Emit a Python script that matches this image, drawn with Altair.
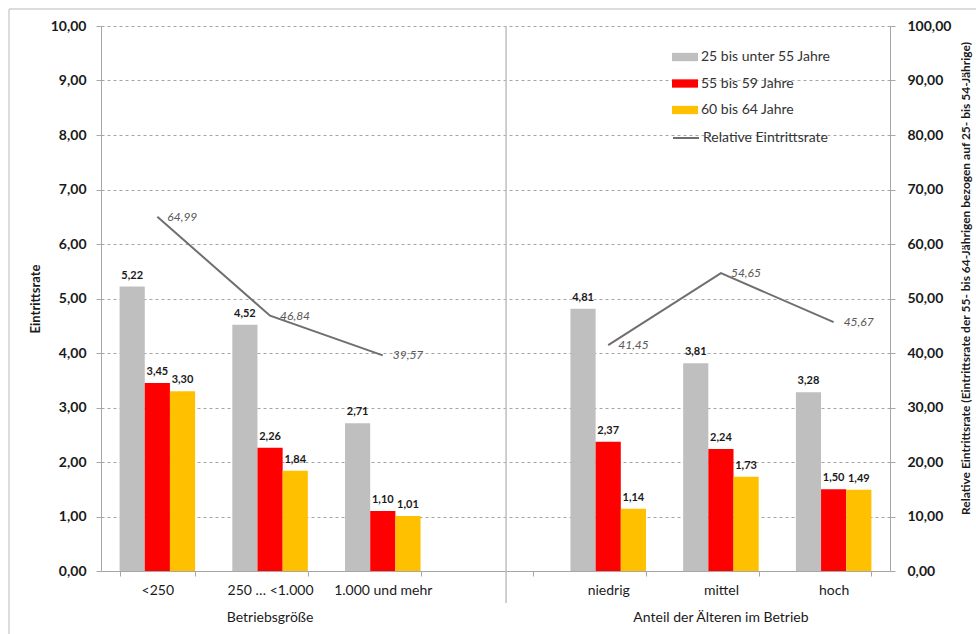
import altair as alt
import pandas as pd

# Categories on the x axis; the blank entry leaves a gap between the two sections
categories = ["<250", "250 … <1.000", "1.000 und mehr", " ", "niedrig", "mittel", "hoch"]
gap_category = " "

series = ["25 bis unter 55 Jahre", "55 bis 59 Jahre", "60 bis 64 Jahre"]
series_colors = ["#bfbfbf", "#ff0000", "#ffc000"]

bar_categories = ["<250", "250 … <1.000", "1.000 und mehr", "niedrig", "mittel", "hoch"]
rate_25_54 = [5.22, 4.52, 2.71, 4.81, 3.81, 3.28]
rate_55_59 = [3.45, 2.26, 1.10, 2.37, 2.24, 1.50]
rate_60_64 = [3.30, 1.84, 1.01, 1.14, 1.73, 1.49]

line_name = "Relative Eintrittsrate"
relative_rate = [64.99, 46.84, 39.57, 41.45, 54.65, 45.67]
section = ["Betriebsgröße"] * 3 + ["Anteil der Älteren im Betrieb"] * 3

section_titles = ["Betriebsgröße", "Anteil der Älteren im Betrieb"]
section_centres = ["250 … <1.000", "mittel"]

left_ticks = [0, 1, 2, 3, 4, 5, 6, 7, 8, 9, 10]
right_ticks = [0, 10, 20, 30, 40, 50, 60, 70, 80, 90, 100]

W, H = 789, 545
FONT = "Lato"
GREY = "#a6a6a6"
DE_NUM = "replace(format(datum.value, '.2f'), '.', ',')"

bars_df = pd.DataFrame(
    [
        {"cat": c, "series": s, "rate": v}
        for s, vals in zip(series, [rate_25_54, rate_55_59, rate_60_64])
        for c, v in zip(bar_categories, vals)
    ]
)
line_df = pd.DataFrame(
    {"cat": bar_categories, "rel": relative_rate, "section": section, "kind": line_name}
)
titles_df = pd.DataFrame({"cat": section_centres, "title": section_titles})
gap_df = pd.DataFrame({"cat": [gap_category]})
blank = alt.Data(values=[{}])

x_scale = alt.Scale(domain=categories, paddingInner=0.33, paddingOuter=0.165)
x_axis = alt.Axis(
    title=None,
    labelAngle=0,
    tickBand="extent",
    grid=False,
    domainColor=GREY,
    tickColor=GREY,
    tickSize=5,
    labelFontSize=14,
    labelColor="#1a1a1a",
    labelPadding=7,
)


def x_enc(**kw):
    return alt.X("cat:N", sort=categories, scale=x_scale, axis=x_axis, **kw)


offset = alt.XOffset(
    "series:N", sort=series, scale=alt.Scale(domain=series, paddingInner=0, paddingOuter=0)
)

y_left = alt.Y(
    "rate:Q",
    scale=alt.Scale(domain=[0, 10], nice=False),
    axis=alt.Axis(
        values=left_ticks,
        labelExpr=DE_NUM,
        grid=True,
        gridDash=[3, 3],
        gridColor=GREY,
        domainColor=GREY,
        tickColor=GREY,
        tickSize=5,
        labelFontSize=14,
        labelFontWeight="bold",
        labelColor="#1a1a1a",
        labelPadding=10,
        title="Eintrittsrate",
        titleFontSize=13,
        titleFontWeight="bold",
        titleColor="#1a1a1a",
        titleAngle=270,
        titleX=-66,
        titleY=H / 2,
        titleAlign="center",
        titleBaseline="middle",
    ),
)

bars = alt.Chart(bars_df).mark_bar().encode(
    x=x_enc(),
    xOffset=offset,
    y=y_left,
    color=alt.Color(
        "series:N",
        sort=series,
        scale=alt.Scale(domain=series, range=series_colors),
        legend=alt.Legend(
            title=None,
            orient="none",
            legendX=571,
            legendY=18,
            symbolType="M-1,-0.32L1,-0.32L1,0.32L-1,0.32Z",
            symbolSize=676,
            symbolStrokeWidth=0,
            labelFontSize=14,
            labelColor="#333333",
            labelOffset=3,
            rowPadding=6.5,
            padding=0,
        ),
    ),
)

bar_labels = (
    alt.Chart(bars_df)
    .transform_calculate(lbl="replace(format(datum.rate, '.2f'), '.', ',')")
    .mark_text(baseline="bottom", dy=-6, fontSize=11, fontWeight="bold", color="#1a1a1a")
    .encode(x=x_enc(), xOffset=offset, y=alt.Y("rate:Q"), text="lbl:N")
)

bar_layer = alt.layer(bars, bar_labels)

y_right = alt.Y(
    "rel:Q",
    scale=alt.Scale(domain=[0, 100], nice=False),
    axis=alt.Axis(
        orient="right",
        values=right_ticks,
        labelExpr=DE_NUM,
        grid=False,
        domainColor=GREY,
        tickColor=GREY,
        tickSize=5,
        labelFontSize=14,
        labelFontWeight="bold",
        labelColor="#1a1a1a",
        labelPadding=12,
        title="Relative Eintrittsrate (Eintrittsrate der 55- bis 64-Jährigen bezogen auf 25- bis 54-Jährige)",
        titleFontSize=12,
        titleFontWeight="bold",
        titleColor="#1a1a1a",
        titleAngle=270,
        titleX=75,
        titleY=252,
        titleAlign="center",
        titleBaseline="middle",
    ),
)

rel_line = alt.Chart(line_df).mark_line(strokeWidth=2).encode(
    x=x_enc(),
    y=y_right,
    detail="section:N",
    stroke=alt.Stroke(
        "kind:N",
        scale=alt.Scale(domain=[line_name], range=["#6f6f6f"]),
        legend=alt.Legend(
            title=None,
            orient="none",
            legendX=571,
            legendY=98,
            symbolType="stroke",
            symbolSize=676,
            symbolStrokeWidth=2,
            labelFontSize=14,
            labelColor="#333333",
            labelOffset=3,
            padding=0,
        ),
    ),
)

rel_labels = (
    alt.Chart(line_df)
    .transform_calculate(lbl="replace(format(datum.rel, '.2f'), '.', ',')")
    .mark_text(align="left", baseline="middle", dx=10, fontSize=12, fontStyle="italic", color="#595959")
    .encode(x=x_enc(), y=alt.Y("rel:Q"), text="lbl:N")
)

line_layer = alt.layer(rel_line, rel_labels)

# Vertical divider between the two sections
divider = alt.Chart(gap_df).mark_rule(color="#bfbfbf", strokeWidth=1.5).encode(
    x=x_enc(bandPosition=0.64),
    y=alt.value(0),
    y2=alt.value(H + 32),
)

# Section captions below the category labels
section_text = alt.Chart(titles_df).mark_text(
    fontSize=14, color="#1a1a1a", baseline="middle"
).encode(x=x_enc(), y=alt.value(H + 47), text="title:N")

# Light frame around the chart
frame_top = alt.Chart(blank).mark_rule(color="#d0d0d0", strokeWidth=1.5).encode(
    x=alt.value(-92), x2=alt.value(W + 86), y=alt.value(-17)
)
frame_left = alt.Chart(blank).mark_rule(color="#d0d0d0", strokeWidth=1.5).encode(
    x=alt.value(-92), y=alt.value(-17), y2=alt.value(H + 63)
)

chart = (
    alt.layer(bar_layer, line_layer, divider, section_text, frame_top, frame_left)
    .resolve_scale(y="independent")
    .properties(
        width=W,
        height=H,
        padding={"left": 101, "top": 26, "right": 86, "bottom": 63},
        autosize=alt.AutoSizeParams(type="none"),
        background="white",
    )
    .configure(font=FONT)
    .configure_view(strokeWidth=0)
)

chart.save("out.html", embed_options={"renderer": "svg", "actions": False})
